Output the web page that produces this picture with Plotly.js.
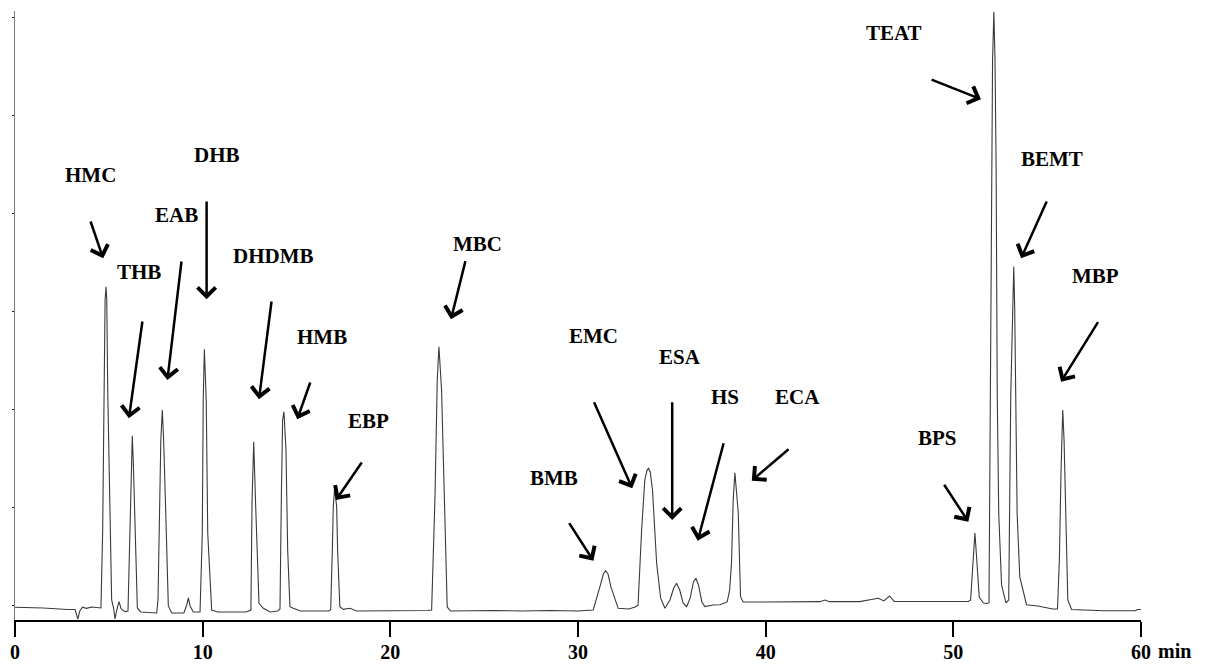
<!DOCTYPE html>
<html>
<head>
<meta charset="utf-8">
<script src="https://cdn.plot.ly/plotly-3.0.1.min.js"></script>
<style>html,body{margin:0;padding:0;background:#fff;}#chart{width:1206px;height:664px;}</style>
</head>
<body>
<div id="chart"></div>
<script>
// Retention time (min) of trace points
var time = [
  0.00, 1.50, 2.80, 3.20, 3.35, 3.45, 3.60, 3.80, 4.10, 4.45,
  4.58, 4.67, 4.73, 4.80, 4.85, 4.89, 4.94, 5.06, 5.15, 5.25,
  5.33, 5.42, 5.54, 5.66, 5.86, 6.02, 6.13, 6.20, 6.25, 6.30,
  6.39, 6.52, 6.70, 7.20, 7.55, 7.62, 7.69, 7.77, 7.85, 7.92,
  8.04, 8.17, 8.35, 9.00, 9.15, 9.24, 9.33, 9.50, 9.86, 9.98,
  10.03, 10.09, 10.19, 10.27, 10.48, 10.80, 12.30, 12.57, 12.63, 12.70,
  12.72, 12.82, 13.00, 13.23, 13.60, 14.00, 14.12, 14.19, 14.26, 14.33,
  14.44, 14.53, 14.65, 14.83, 15.20, 16.70, 16.82, 16.91, 16.96, 17.03,
  17.14, 17.19, 17.31, 17.49, 17.85, 18.20, 20.00, 22.00, 22.20, 22.38,
  22.50, 22.59, 22.73, 22.86, 23.03, 23.20, 25.50, 27.00, 28.50, 30.00,
  30.81, 31.17, 31.35, 31.47, 31.60, 31.75, 32.14, 32.70, 33.05, 33.20,
  33.39, 33.56, 33.68, 33.76, 33.85, 33.97, 34.19, 34.40, 34.63, 34.90,
  35.10, 35.25, 35.42, 35.60, 35.79, 35.98, 36.15, 36.28, 36.42, 36.60,
  36.76, 37.20, 37.56, 37.95, 38.08, 38.18, 38.27, 38.36, 38.45, 38.54,
  38.66, 38.80, 40.00, 42.90, 43.15, 43.40, 45.00, 46.00, 46.30, 46.60,
  46.85, 48.00, 50.80, 50.92, 51.05, 51.15, 51.25, 51.38, 51.60, 51.80,
  51.90, 51.96, 52.02, 52.09, 52.16, 52.22, 52.28, 52.34, 52.42, 52.57,
  52.80, 52.95, 53.06, 53.15, 53.22, 53.27, 53.34, 53.40, 53.54, 53.90,
  54.50, 55.30, 55.55, 55.65, 55.74, 55.83, 55.90, 55.98, 56.10, 56.30,
  58.00, 59.70, 59.80, 60.00
];
// Detector signal (arbitrary units) at each time above
var signal = [
  -1.6, -2.3, -3.9, -3.9, -13.6, -5.4, -1.6, -2.7, -1.3, -1.8,
  -2.3, 74.1, 220.0, 311.7, 325.3, 311.7, 220.0, 74.1, 5.8, -2.3,
  -13.6, -4.4, 4.1, -3.4, -6.1, -5.4, 80.3, 148.6, 173.3, 148.6,
  80.3, -2.3, -6.4, -7.4, -7.4, 5.8, 90.4, 169.0, 199.6, 169.0,
  90.4, -0.3, -7.4, -7.4, 0.7, 7.9, -0.3, -6.4, -6.4, 74.1,
  209.8, 261.5, 209.8, 74.1, -4.4, -6.4, -6.4, -4.4, 104.4, 158.8,
  167.2, 104.4, 2.4, -2.7, -6.4, -5.4, -3.4, 107.8, 189.4, 197.8,
  158.8, 56.8, -1.0, -2.7, -5.4, -5.4, -4.4, 56.8, 101.0, 119.7,
  101.0, 56.8, -1.0, -3.7, -2.7, -5.4, -5.4, -4.9, -4.4, 111.1,
  230.2, 264.1, 220.0, 111.1, -1.3, -5.4, -4.9, -5.4, -4.9, -5.4,
  -4.4, 19.4, 32.3, 35.7, 32.3, 19.4, -2.7, -3.4, -1.3, 0.7,
  77.2, 128.2, 138.3, 140.1, 136.3, 118.0, 43.5, 7.9, -2.7, 5.8,
  18.0, 22.8, 16.0, 2.8, -1.0, 7.9, 24.2, 27.9, 21.1, 3.8,
  -1.0, 0.7, 1.0, 3.8, 16.0, 43.5, 107.8, 135.6, 118.0, 94.5,
  9.2, 3.8, 3.8, 4.1, 5.8, 4.1, 4.1, 7.5, 4.8, 9.9,
  4.3, 4.1, 4.3, 5.8, 46.6, 74.1, 46.6, 8.9, 2.8, 2.2,
  2.8, 165.9, 355.6, 556.5, 605.5, 556.5, 449.4, 214.9, 93.5, 21.1,
  2.8, 5.8, 214.9, 303.6, 345.6, 303.6, 214.9, 93.5, 29.3, 1.0,
  -0.3, -3.4, -3.4, 46.6, 138.3, 199.6, 169.0, 87.4, 5.8, -3.9,
  -5.1, -5.1, -3.9, -3.9
];
// Peak names
var peakNames = ["HMC","THB","EAB","DHB","DHDMB","HMB","EBP","MBC","BMB","EMC","ESA","HS","ECA","BPS","TEAT","BEMT","MBP"];
// X tick values and labels
var xTickVals = [0, 10, 20, 30, 40, 50, 60];
var xTickText = ["0", "10", "20", "30", "40", "50", "60"];
var xUnit = "min";
var yTickVals = [0, 100, 200, 300, 400, 500, 600];

// ---- layout placement of labels / arrows (data coordinates) ----
var labelPos = {
  HMC:[4.02,438.7], THB:[6.61,339.8], EAB:[8.63,397.9], DHB:[10.75,459.6],
  DHDMB:[13.77,356.6], HMB:[16.36,274.0], EBP:[18.86,188.3], MBC:[24.65,368.8],
  BMB:[28.72,129.7], EMC:[30.80,275.0], ESA:[35.42,253.6], HS:[37.83,212.8],
  ECA:[41.67,212.8], BPS:[49.13,170.5], TEAT:[46.84,583.7], BEMT:[55.26,455.5],
  MBP:[57.59,336.4]
};
// [tailX, tailY, headX, headY]
var arrowPos = {
  HMC:[4.00,393.3,4.70,354.2], THB:[6.80,291.3,6.07,191.1], EAB:[8.88,352.5,8.12,230.1],
  DHB:[10.21,413.7,10.21,312.4], DHDMB:[13.68,311.7,13.00,210.5], HMB:[15.76,229.1,15.04,190.1],
  EBP:[18.53,147.5,17.10,107.7], MBC:[24.02,352.9,23.23,292.0], BMB:[29.48,85.7,30.82,45.9],
  EMC:[30.82,209.0,32.89,119.7], ESA:[35.02,209.0,35.02,87.4], HS:[37.78,167.2,36.38,66.3],
  ECA:[41.30,160.8,39.26,127.5], BPS:[49.46,124.8,50.80,85.6], TEAT:[48.76,537.1,51.47,516.4],
  BEMT:[55.01,413.7,53.61,354.2], MBP:[57.76,290.6,55.74,228.4]
};

var fontFam = "Liberation Serif, Times New Roman, serif";
function bold(s){ return '<b>' + s + '</b>'; }
var annotations = [];
peakNames.forEach(function(n){
  var p = labelPos[n];
  annotations.push({x:p[0], y:p[1], xref:'x', yref:'y', text:bold(n), showarrow:false,
    font:{family:fontFam, size:21, color:'#000'}, xanchor:'center', yanchor:'middle'});
  var a = arrowPos[n];
  annotations.push({x:a[2], y:a[3], xref:'x', yref:'y', ax:a[0], ay:a[1], axref:'x', ayref:'y',
    text:'', showarrow:true, arrowhead:4, arrowsize:1.4, arrowwidth:2.5, arrowcolor:'#000', standoff:0, startstandoff:0});
});
annotations.push({x:1, y:0, xref:'paper', yref:'paper', text:bold(xUnit), showarrow:false,
  xanchor:'left', yanchor:'middle', xshift:15, yshift:-31,
  font:{family:fontFam, size:20, color:'#000'}});

var trace = {
  x: time, y: signal, type:'scatter', mode:'lines',
  line:{color:'#3a3a3a', width:1.1}, hoverinfo:'skip', cliponaxis:false
};

var layout = {
  width:1206, height:664,
  margin:{l:15, r:65, t:11, b:44, pad:0},
  paper_bgcolor:'#fff', plot_bgcolor:'#fff',
  showlegend:false,
  xaxis:{range:[0,60], tickvals:xTickVals, ticktext:xTickText.map(bold), ticks:'outside', ticklen:15, tickwidth:2,
    tickcolor:'#000', showline:true, linecolor:'#000', linewidth:2, showgrid:false, zeroline:false,
    ticklabelstandoff:-2,
    tickfont:{family:fontFam, size:20, color:'#000'}, fixedrange:true},
  yaxis:{range:[-14.6,606.4], tickvals:yTickVals, ticks:'outside', ticklen:2, tickwidth:1.5, tickcolor:'#222',
    showticklabels:false, showline:true, linecolor:'#777', linewidth:1.5, showgrid:false, zeroline:false, fixedrange:true},
  annotations: annotations
};

Plotly.newPlot('chart', [trace], layout, {staticPlot:true, displayModeBar:false});
</script>
</body>
</html>
